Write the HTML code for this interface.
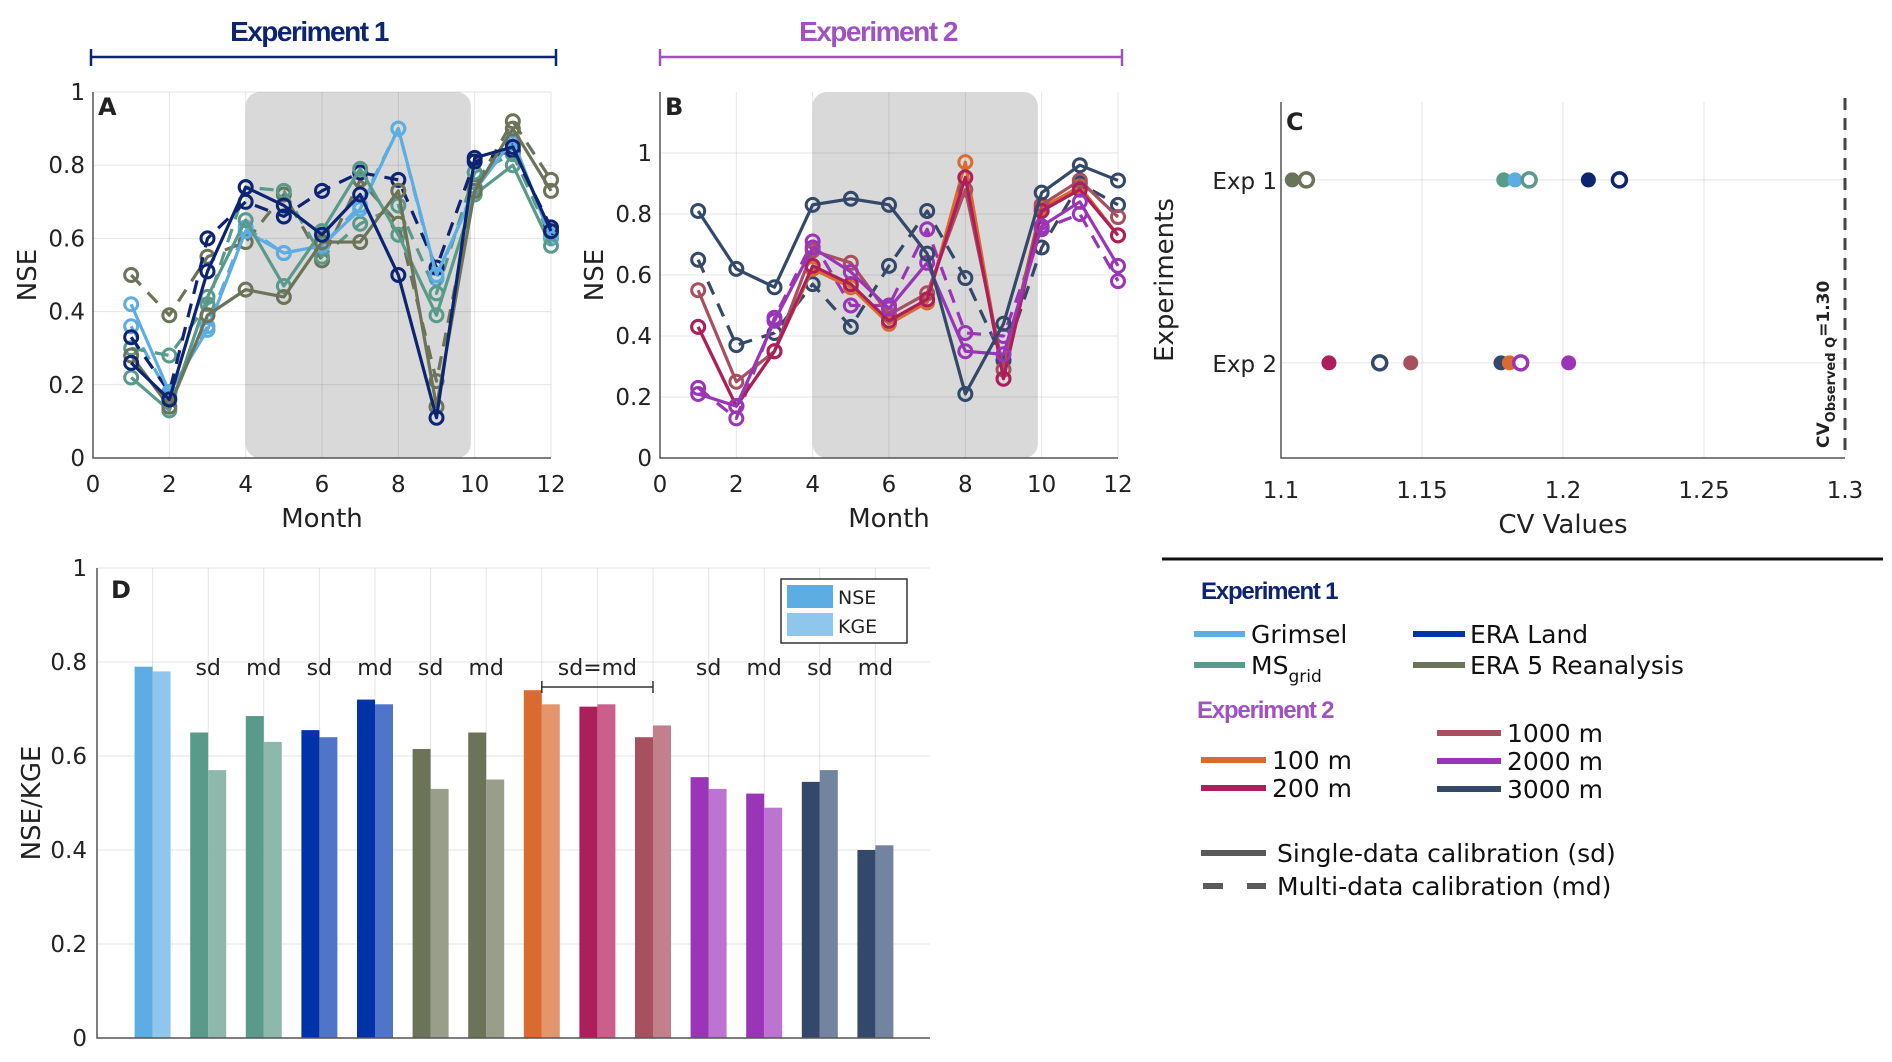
<!DOCTYPE html>
<html><head><meta charset="utf-8">
<style>
html,body{margin:0;padding:0;background:#fff;}
svg{display:block;font-family:"DejaVu Sans","Liberation Sans",sans-serif;}
</style></head>
<body>
<svg id="fig" width="1892" height="1062" viewBox="0 0 1892 1062" xmlns="http://www.w3.org/2000/svg">
<rect width="1892" height="1062" fill="#fff"/>
<g>
<text x="309" y="41" text-anchor="middle" font-family="Liberation Sans,sans-serif" font-weight="bold" font-size="28" fill="#0d2472" letter-spacing="-1.5">Experiment 1</text>
<path d="M91,57 H556 M91,49 V66 M556,49 V66" stroke="#0d2472" stroke-width="2.5" fill="none"/>
</g>
<g>
<text x="878" y="41" text-anchor="middle" font-family="Liberation Sans,sans-serif" font-weight="bold" font-size="28" fill="#a052c2" letter-spacing="-1.5">Experiment 2</text>
<path d="M660,57 H1122 M660,49 V66 M1122,49 V66" stroke="#a052c2" stroke-width="2.5" fill="none"/>
</g>
<g id="pA"></g>
<g id="pB"></g>
<g id="pC"></g>
<g id="pD"></g>
<line x1="1162" y1="559" x2="1883" y2="559" stroke="#111" stroke-width="3"/>
<g font-size="25" fill="#111">
<text x="1201" y="599" font-family="Liberation Sans,sans-serif" font-weight="bold" font-size="24" fill="#0d2472" letter-spacing="-1.2">Experiment 1</text>
<g><line x1="1194" y1="634" x2="1245" y2="634" stroke="#5dade2" stroke-width="6"/><text x="1251" y="643">Grimsel</text></g>
<g><line x1="1413" y1="634" x2="1465" y2="634" stroke="#0033a8" stroke-width="6"/><text x="1470" y="643">ERA Land</text></g>
<g><line x1="1194" y1="665" x2="1245" y2="665" stroke="#5a9a8a" stroke-width="6"/><text x="1251" y="674">MS<tspan font-size="17" dy="8">grid</tspan></text></g>
<g><line x1="1413" y1="665" x2="1465" y2="665" stroke="#6b7358" stroke-width="6"/><text x="1470" y="674">ERA 5 Reanalysis</text></g>
<text x="1197" y="718" font-family="Liberation Sans,sans-serif" font-weight="bold" font-size="24" fill="#a052c2" letter-spacing="-1.2">Experiment 2</text>
<g><line x1="1437" y1="733" x2="1501" y2="733" stroke="#a65060" stroke-width="6"/><text x="1507" y="742">1000 m</text></g>
<g><line x1="1201" y1="760" x2="1266" y2="760" stroke="#d96b30" stroke-width="6"/><text x="1272" y="769">100 m</text></g>
<g><line x1="1437" y1="761" x2="1501" y2="761" stroke="#9b35b8" stroke-width="6"/><text x="1507" y="770">2000 m</text></g>
<g><line x1="1201" y1="788" x2="1266" y2="788" stroke="#ad1f5a" stroke-width="6"/><text x="1272" y="797">200 m</text></g>
<g><line x1="1437" y1="789" x2="1501" y2="789" stroke="#34496a" stroke-width="6"/><text x="1507" y="798">3000 m</text></g>
<g><line x1="1201" y1="853" x2="1266" y2="853" stroke="#5a5a5a" stroke-width="6"/><text x="1277" y="862">Single-data calibration (sd)</text></g>
<g><line x1="1203" y1="886" x2="1266" y2="886" stroke="#5a5a5a" stroke-width="6" stroke-dasharray="20 24"/><text x="1277" y="895">Multi-data calibration (md)</text></g>
</g>
</svg>
<script>
const NS="http://www.w3.org/2000/svg";
// ---- Panel A data ----
const monthsA=[1,2,3,4,5,6,7,8,9,10,11,12];
const grimselSd=[0.42,0.18,0.35,0.62,0.56,0.58,0.68,0.90,0.50,0.73,0.87,0.60];
const grimselMd=[0.36,0.17,0.36,0.63,0.56,0.58,0.69,0.90,0.49,0.74,0.86,0.61];
const eraLandSd=[0.26,0.16,0.51,0.74,0.69,0.61,0.72,0.50,0.11,0.82,0.85,0.62];
const eraLandMd=[0.33,0.18,0.60,0.70,0.66,0.73,0.78,0.76,0.52,0.81,0.84,0.63];
const msGridSd=[0.22,0.13,0.44,0.65,0.47,0.62,0.79,0.61,0.39,0.72,0.80,0.58];
const msGridMd=[0.30,0.28,0.42,0.74,0.73,0.55,0.64,0.69,0.45,0.78,0.83,0.60];
const era5Sd=[0.28,0.14,0.39,0.46,0.44,0.59,0.59,0.73,0.14,0.73,0.90,0.73];
const era5Md=[0.50,0.39,0.55,0.59,0.72,0.54,0.76,0.64,0.21,0.74,0.92,0.76];
// ---- Panel B data ----
const res3000Sd=[0.81,0.62,0.56,0.83,0.85,0.83,0.67,0.21,0.44,0.87,0.96,0.91];
const res3000Md=[0.65,0.37,0.41,0.57,0.43,0.63,0.81,0.59,0.32,0.69,0.90,0.83];
const res100=[0.43,0.17,0.35,0.62,0.56,0.44,0.51,0.97,0.26,0.82,0.89,0.73];
const res200=[0.43,0.17,0.35,0.63,0.57,0.45,0.52,0.92,0.26,0.81,0.88,0.73];
const res1000=[0.55,0.25,0.35,0.68,0.64,0.47,0.54,0.88,0.29,0.83,0.91,0.79];
const res2000Sd=[0.21,0.17,0.45,0.69,0.61,0.49,0.64,0.35,0.34,0.76,0.84,0.63];
const res2000Md=[0.23,0.13,0.46,0.71,0.50,0.50,0.75,0.41,0.40,0.75,0.80,0.58];
const monthTicks=[0,2,4,6,8,10,12];
const nseTicksA=[0,0.2,0.4,0.6,0.8,1];
// ---- Panel C data ----
const cvExp1Vals=[1.104,1.109,1.179,1.183,1.188,1.209,1.220];
const cvExp1Filled=[1,0,1,1,0,1,0];
const cvExp1Colors=["#6b7358","#6b7358","#5a9a8a","#5dade2","#5a9a8a","#0d2472","#0d2472"];
const cvExp2Vals=[1.117,1.135,1.146,1.178,1.181,1.185,1.202];
const cvExp2Filled=[1,0,1,1,1,0,1];
const cvExp2Colors=["#ad1f5a","#34496a","#a65060","#34496a","#d96b30","#9b35b8","#9b35b8"];
const cvTicks=[1.1,1.15,1.2,1.25,1.3];
const cvObserved=1.30;
// ---- Panel D data ----
const barGroups=["Grimsel","MS sd","MS md","ERA Land sd","ERA Land md","ERA5 sd","ERA5 md","100 m","200 m","1000 m","2000 m sd","2000 m md","3000 m sd","3000 m md"];
const nseVals=[0.79,0.65,0.685,0.655,0.72,0.615,0.65,0.74,0.705,0.64,0.555,0.52,0.545,0.40];
const kgeVals=[0.78,0.57,0.63,0.64,0.71,0.53,0.55,0.71,0.71,0.665,0.53,0.49,0.57,0.41];
const groupLabels=["","sd","md","sd","md","sd","md","","","","sd","md","sd","md"];
const nseColors=["#5dade2","#5a9a8a","#5a9a8a","#0033a8","#0033a8","#6b7358","#6b7358","#d96b30","#ad1f5a","#a65060","#9b35b8","#9b35b8","#34496a","#34496a"];
const kgeColors=["#8fc6ec","#8fb8ad","#8fb8ad","#4f74c8","#4f74c8","#999e8b","#999e8b","#e4956c","#c95f8a","#c27f8c","#bd74d0","#bd74d0","#7284a0","#7284a0"];
const dTicks=[0,0.2,0.4,0.6,0.8,1];

function el(tag,attrs,parent){const e=document.createElementNS(NS,tag);for(const k in attrs)e.setAttribute(k,attrs[k]);if(parent)parent.appendChild(e);return e;}
function txt(parent,x,y,s,attrs){const t=el("text",Object.assign({x:x,y:y},attrs||{}),parent);t.textContent=s;return t;}

function linePanel(g,box,ymax,yTicks,series,label){
  const sx=v=>box.x0+(v/12)*(box.x1-box.x0);
  const sy=v=>box.y1-(v/ymax)*(box.y1-box.y0);
  const sh=el("rect",{x:sx(4.0),y:box.y0,width:sx(9.9)-sx(4.0),height:box.y1-box.y0,rx:14,fill:"#d9d9d9"},g);
  
  
  monthTicks.forEach(m=>{const l=el("line",{x1:sx(m),x2:sx(m),y1:box.y0,y2:box.y1,stroke:"#000","stroke-opacity":0.1,"stroke-width":1},g);
    
    
    const t=txt(g,sx(m),box.y1+34,String(m),{"text-anchor":"middle","font-size":23,fill:"#222"});
    
    });
  yTicks.forEach(v=>{const l=el("line",{x1:box.x0,x2:box.x1,y1:sy(v),y2:sy(v),stroke:"#000","stroke-opacity":0.1,"stroke-width":1},g);
    
    
    const t=txt(g,box.x0-8,sy(v)+8,String(v),{"text-anchor":"end","font-size":23,fill:"#222"});
    
    });
  const ax=el("path",{d:`M${box.x0},${box.y0} V${box.y1} H${box.x1}`,stroke:"#555","stroke-width":1.5,fill:"none"},g);
  
  
  series.forEach(s=>{
    const sg=el("g",{},g);
    
    
    const pts=s.vals.map((v,i)=>sx(monthsA[i])+","+sy(v)).join(" ");
    const pl=el("polyline",{points:pts,fill:"none",stroke:s.color,"stroke-width":3.2,"stroke-dasharray":s.dash?"14 10":"none","stroke-linejoin":"round"},sg);
    
    
    s.vals.forEach((v,i)=>{const c=el("circle",{cx:sx(monthsA[i]),cy:sy(v),r:6.5,fill:"none",stroke:s.color,"stroke-width":3},sg);
      
      });
  });
  const pl=txt(g,box.x0+5,box.y0+23,label,{"font-size":24,"font-weight":"bold",fill:"#222"});
  
  
  const xt=txt(g,(box.x0+box.x1)/2,box.y1+69,"Month",{"text-anchor":"middle","font-size":26,fill:"#222"});
  
  
  const yt=txt(g,0,0,"NSE",{"text-anchor":"middle","font-size":26,fill:"#222",transform:`translate(${box.x0-57},${(box.y0+box.y1)/2}) rotate(-90)`});
  
  
}
linePanel(document.getElementById("pA"),{x0:93,x1:551,y0:92,y1:458},1,nseTicksA,[
 {name:"grimsel-md",vals:grimselMd,color:"#5dade2",dash:true},
 {name:"era5-md",vals:era5Md,color:"#6b7358",dash:true},
 {name:"ms-grid-md",vals:msGridMd,color:"#5a9a8a",dash:true},
 {name:"era-land-md",vals:eraLandMd,color:"#0d2472",dash:true},
 {name:"grimsel-sd",vals:grimselSd,color:"#5dade2"},
 {name:"ms-grid-sd",vals:msGridSd,color:"#5a9a8a"},
 {name:"era5-sd",vals:era5Sd,color:"#6b7358"},
 {name:"era-land-sd",vals:eraLandSd,color:"#0d2472"}],"A");
linePanel(document.getElementById("pB"),{x0:660,x1:1118,y0:92,y1:458},1.2,[0,0.2,0.4,0.6,0.8,1],[
 {name:"res-3000m-md",vals:res3000Md,color:"#34496a",dash:true},
 {name:"res-2000m-md",vals:res2000Md,color:"#9b35b8",dash:true},
 {name:"res-100m",vals:res100,color:"#d96b30"},
 {name:"res-1000m",vals:res1000,color:"#a65060"},
 {name:"res-200m",vals:res200,color:"#ad1f5a"},
 {name:"res-2000m-sd",vals:res2000Sd,color:"#9b35b8"},
 {name:"res-3000m-sd",vals:res3000Sd,color:"#34496a"}],"B");

// ---- Panel C ----
(function(){
  const g=document.getElementById("pC");
  const x0=1281,x1=1845,y0=102,y1=458;
  const sx=v=>x0+(v-1.1)/0.2*(x1-x0);
  const sy=v=>y0+(v-0.574)/(2.52-0.574)*(y1-y0);
  cvTicks.forEach(v=>{const l=el("line",{x1:sx(v),x2:sx(v),y1:y0,y2:y1,stroke:"#000","stroke-opacity":0.1},g);
    
    
    const t=txt(g,sx(v),y1+40,String(v),{"text-anchor":"middle","font-size":23,fill:"#222"});
    
    });
  [1,2].forEach(e=>{const l=el("line",{x1:x0,x2:x1,y1:sy(e),y2:sy(e),stroke:"#000","stroke-opacity":0.1},g);
    
    
    const t=txt(g,x0-4,sy(e)+9,"Exp "+e,{"text-anchor":"end","font-size":23,fill:"#222"});
    
    });
  const ax=el("path",{d:`M${x0},${y0} V${y1} H${x1}`,stroke:"#555","stroke-width":1.5,fill:"none"},g);
  
  
  const ob=el("line",{x1:sx(cvObserved),x2:sx(cvObserved),y1:y0-4,y2:y1,stroke:"#444","stroke-width":3,"stroke-dasharray":"12 8"},g);
  
  
  const ot=txt(g,0,0,"",{"font-size":17,"font-weight":"bold",fill:"#222",transform:`translate(${sx(cvObserved)-16},${y1-10}) rotate(-90)`});
  ot.innerHTML='CV<tspan font-size="13" dy="6">Observed Q</tspan><tspan dy="-6">=1.30</tspan>';
  
  
  function pts(vals,filled,cols,e){vals.forEach((v,i)=>{const c=el("circle",{cx:sx(v),cy:sy(e),r:filled[i]?7.5:7,fill:filled[i]?cols[i]:"#fff",stroke:cols[i],"stroke-width":filled[i]?0:3.5},g);
    
    });}
  pts(cvExp1Vals,cvExp1Filled,cvExp1Colors,1);
  pts(cvExp2Vals,cvExp2Filled,cvExp2Colors,2);
  const pl=txt(g,x0+5,y0+28,"C",{"font-size":24,"font-weight":"bold",fill:"#222"});
  
  
  const xt=txt(g,(x0+x1)/2,y1+75,"CV Values",{"text-anchor":"middle","font-size":26,fill:"#222"});
  
  
  const yt=txt(g,0,0,"Experiments",{"text-anchor":"middle","font-size":26,fill:"#222",transform:`translate(${x0-108},${(y0+y1)/2}) rotate(-90)`});
  
  
})();

// ---- Panel D ----
(function(){
  const g=document.getElementById("pD");
  const x0=97,x1=930,y0=568,y1=1038;
  const sx=v=>x0+v*55.6;
  const sy=v=>y1-v*(y1-y0);
  const bw=18;
  dTicks.forEach(v=>{const l=el("line",{x1:x0,x2:x1,y1:sy(v),y2:sy(v),stroke:"#000","stroke-opacity":0.1},g);
    
    
    const t=txt(g,x0-10,sy(v)+8,String(v),{"text-anchor":"end","font-size":23,fill:"#222"});
    
    });
  barGroups.forEach((n,i)=>{const cx=sx(i+1);
    const l=el("line",{x1:cx,x2:cx,y1:y0,y2:y1,stroke:"#000","stroke-opacity":0.1},g);
    
    });
  barGroups.forEach((n,i)=>{const cx=sx(i+1);
    const b1=el("rect",{x:cx-bw,y:sy(nseVals[i]),width:bw,height:sy(0)-sy(nseVals[i]),fill:nseColors[i]},g);
    
    
    const b2=el("rect",{x:cx,y:sy(kgeVals[i]),width:bw,height:sy(0)-sy(kgeVals[i]),fill:kgeColors[i]},g);
    
    
    if(groupLabels[i]){const t=txt(g,cx,y0+107,groupLabels[i],{"text-anchor":"middle","font-size":22,fill:"#222"});
      
      }
  });
  const st=txt(g,sx(9),y0+107,"sd=md",{"text-anchor":"middle","font-size":22,fill:"#222"});
  
  
  const br=el("path",{d:`M${sx(8)},${y0+119} H${sx(10)} M${sx(8)},${y0+113} V${y0+125} M${sx(10)},${y0+113} V${y0+125}`,stroke:"#333","stroke-width":1.5,fill:"none"},g);
  
  
  const ax=el("path",{d:`M${x0},${y0} V${y1} H${x1}`,stroke:"#555","stroke-width":1.5,fill:"none"},g);
  
  
  const pl=txt(g,x0+14,y0+30,"D",{"font-size":24,"font-weight":"bold",fill:"#222"});
  
  
  const yt=txt(g,0,0,"NSE/KGE",{"text-anchor":"middle","font-size":26,fill:"#222",transform:`translate(${x0-57},${(y0+y1)/2}) rotate(-90)`});
  
  
  const lg=el("g",{},g);
  
  
  el("rect",{x:781,y:579,width:126,height:64,fill:"#fff",stroke:"#333","stroke-width":1.5},lg);
  el("rect",{x:787,y:585,width:46,height:23,fill:"#5dade2"},lg);
  el("rect",{x:787,y:613,width:46,height:23,fill:"#8fc6ec"},lg);
  txt(lg,838,604,"NSE",{"font-size":19,fill:"#222"});
  txt(lg,838,633,"KGE",{"font-size":19,fill:"#222"});
})();
</script>
</body></html>
